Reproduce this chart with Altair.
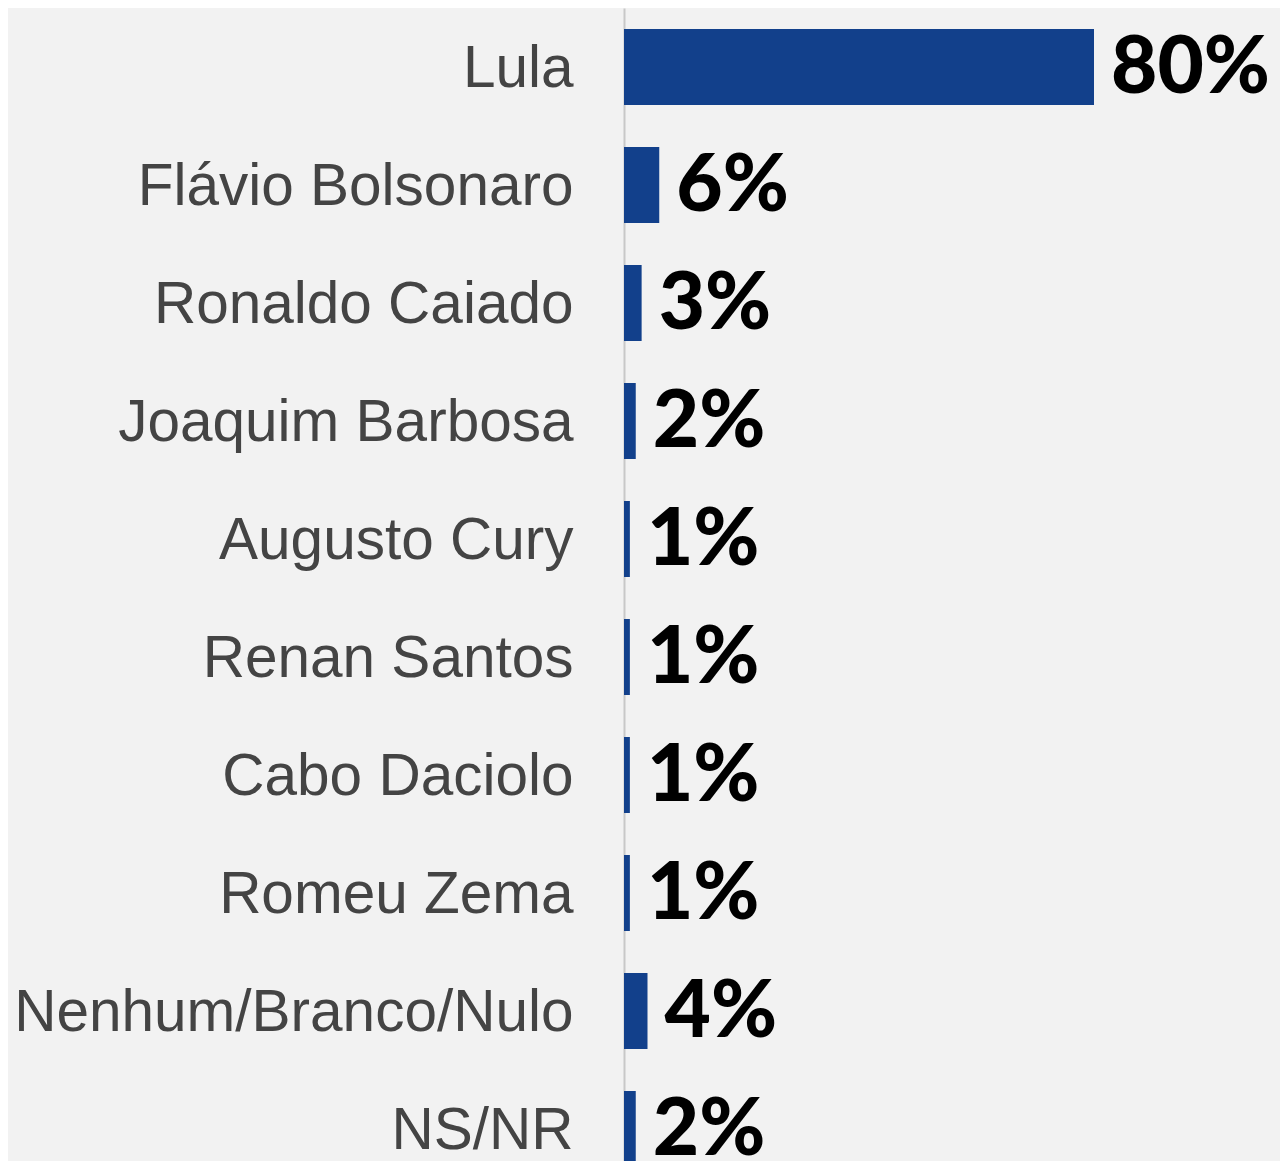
import altair as alt
import pandas as pd

names = ["Lula", "Flávio Bolsonaro", "Ronaldo Caiado", "Joaquim Barbosa", "Augusto Cury",
         "Renan Santos", "Cabo Daciolo", "Romeu Zema", "Nenhum/Branco/Nulo", "NS/NR"]
values = [80, 6, 3, 2, 1, 1, 1, 1, 4, 2]
labels = [f"{v}%" for v in values]

df = pd.DataFrame({"name": names, "value": values, "label": labels})

y_enc = alt.Y("name:N", sort=None, title=None,
              scale=alt.Scale(range=[0, 1180], paddingInner=0.356, paddingOuter=0.178),
              axis=alt.Axis(labelFont="Liberation Sans", labelFontSize=58.5, labelColor="#444444",
                            labelPadding=51, labelOffset=2, ticks=False, domainColor="#c8c8c8",
                            domainWidth=2, labelLimit=0, grid=False))
x_enc = alt.X("value:Q", title=None, scale=alt.Scale(domain=[0, 80]), axis=None)

bars = alt.Chart(df).mark_bar(color="#12408B").encode(x=x_enc, y=y_enc)
text = alt.Chart(df).mark_text(align="left", baseline="middle", dx=17, dy=2, font="Lato",
                               fontWeight=900, fontSize=80, color="#000000").encode(
    x=x_enc, y=y_enc, text="label:N")

chart = (bars + text).properties(
    width=470, height=1153,
    padding={"left": 616, "top": 0, "right": 186, "bottom": 0},
    autosize=alt.AutoSizeParams(type="none"),
    background="#f2f2f2",
).configure_view(stroke=None)

chart.save("out.html", embed_options={"renderer": "svg", "actions": False})
